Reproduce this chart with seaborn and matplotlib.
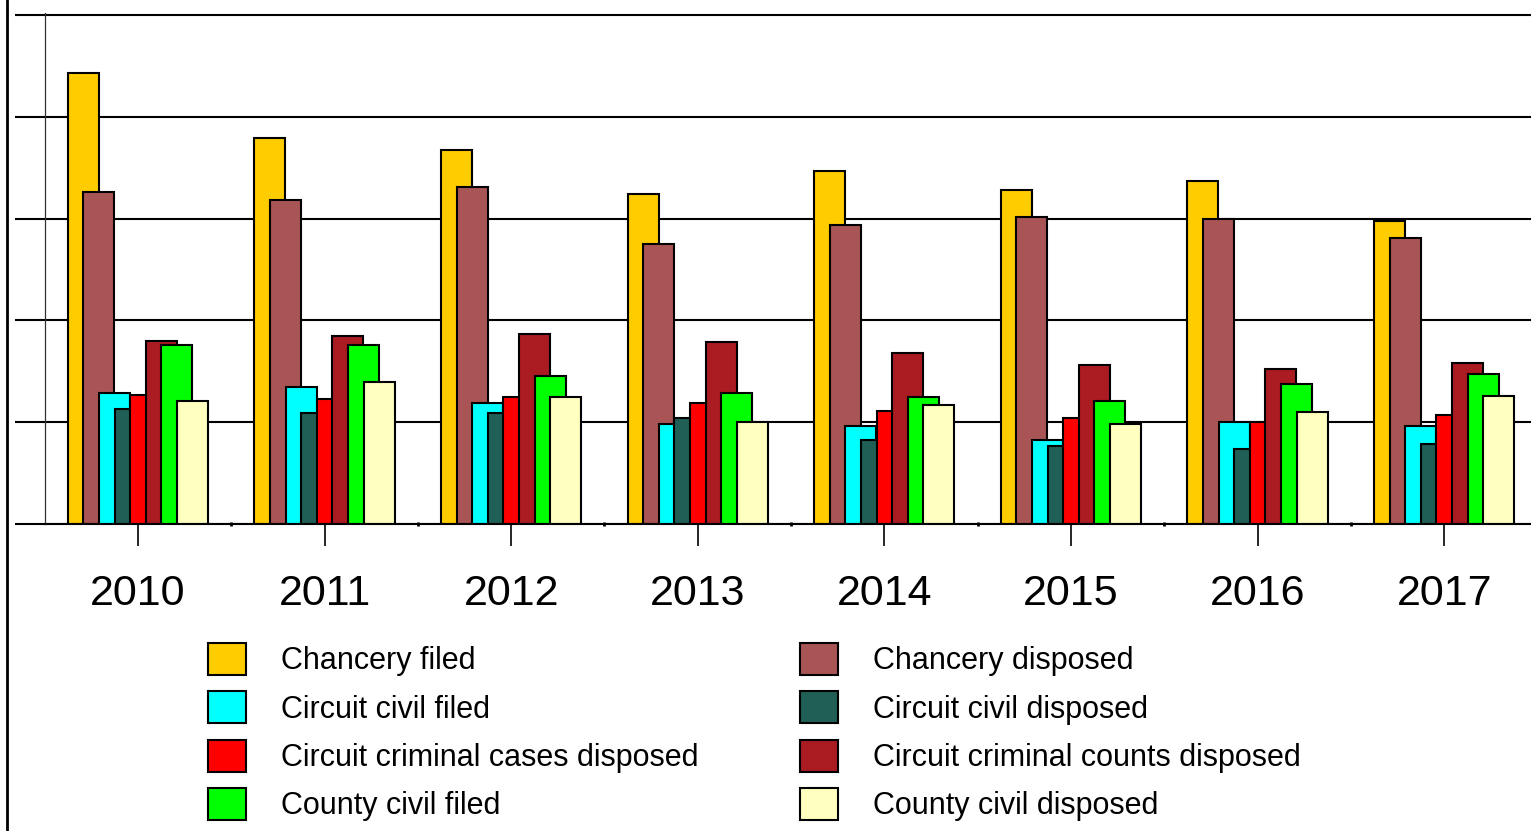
import numpy as np
import matplotlib
matplotlib.use('Agg')
import matplotlib.pyplot as plt
import seaborn as sns
from matplotlib.lines import Line2D

# Dati (scala arbitraria, griglia ogni 1000)
years = [2010, 2011, 2012, 2013, 2014, 2015, 2016, 2017]

series = ['Chancery filed', 'Chancery disposed',
          'Circuit civil filed', 'Circuit civil disposed',
          'Circuit criminal cases disposed', 'Circuit criminal counts disposed',
          'County civil filed', 'County civil disposed']

colors = ['#FFCC00', '#AA5555', '#00FFFF', '#1F5F55',
          '#FF0000', '#AA1C22', '#00FF00', '#FFFFC0']

chancery_filed = [4430, 3792, 3674, 3242, 3468, 3281, 3369, 2976]
chancery_disposed = [3261, 3183, 3310, 2750, 2937, 3016, 2996, 2809]
circuit_civil_filed = [1290, 1346, 1189, 982, 963, 825, 1002, 963]
circuit_civil_disposed = [1130, 1090, 1090, 1041, 825, 766, 737, 786]
criminal_cases_disposed = [1267, 1228, 1248, 1189, 1110, 1041, 1002, 1071]
criminal_counts_disposed = [1798, 1847, 1866, 1788, 1680, 1562, 1523, 1582]
county_civil_filed = [1758, 1758, 1454, 1287, 1248, 1208, 1375, 1473]
county_civil_disposed = [1208, 1395, 1248, 1002, 1169, 982, 1100, 1257]

values = [chancery_filed, chancery_disposed,
          circuit_civil_filed, circuit_civil_disposed,
          criminal_cases_disposed, criminal_counts_disposed,
          county_civil_filed, county_civil_disposed]

sns.set_theme(style='white')
plt.rcParams['font.family'] = ['Liberation Sans', 'DejaVu Sans']
plt.rcParams['text.color'] = 'black'
plt.rcParams['xtick.color'] = 'black'
plt.rcParams['ytick.color'] = 'black'

W, H = 1531, 831
fig = plt.figure(figsize=(W / 100, H / 100), dpi=100)
ax = fig.add_axes([45 / W, (H - 524) / H, (W - 45) / W, 511 / H])

# barre sovrapposte: ogni serie spostata di mezza larghezza
bar_w = 0.166
step = 0.0836
for i, (name, vals, col) in enumerate(zip(series, values, colors)):
    xs = np.array(years) + (i - 3.5) * step
    sns.barplot(x=xs, y=vals, native_scale=True, width=bar_w, color=col,
                saturation=1, edgecolor='black', linewidth=1.5,
                errorbar=None, label=name, ax=ax)

if ax.get_legend() is not None:
    ax.get_legend().remove()

ax.set_xlim(2010 - 0.498, 2010 - 0.498 + 1486 / 186.6)
ax.set_ylim(0, 5020)
ax.set_yticks(np.arange(0, 5001, 1000))
ax.yaxis.grid(True, color='black', linewidth=1.5)
ax.set_axisbelow(True)

ax.set_xticks(years)
ax.set_xticklabels([str(y) for y in years], fontsize=31, color='black')
ax.set_xticks(np.array(years[:-1]) + 0.5, minor=True)
ax.tick_params(axis='x', which='major', direction='out', length=16, width=1.2,
               color='black', pad=20, bottom=True)
ax.tick_params(axis='x', which='minor', direction='inout', length=3, width=2,
               color='black', bottom=True)
ax.tick_params(axis='y', direction='out', length=21.6, width=1.5,
               color='black', left=True, labelleft=False)
ax.set_xlabel('')
ax.set_ylabel('')

for s in ['top', 'right']:
    ax.spines[s].set_visible(False)
ax.spines['left'].set_linewidth(0.9)
ax.spines['left'].set_color('#333333')
ax.spines['bottom'].set_linewidth(1.5)
ax.spines['bottom'].set_color('black')

# legenda in due colonne sotto il grafico
handles, labels = ax.get_legend_handles_labels()
order = list(range(0, 8, 2)) + list(range(1, 8, 2))
fig.legend([handles[k] for k in order], [labels[k] for k in order],
           ncol=2, loc='upper left', bbox_to_anchor=(208 / W, 1 - 643 / H),
           frameon=False, fontsize=22, labelcolor='black',
           borderpad=0, borderaxespad=0,
           handlelength=1.24, handleheight=1.24, handletextpad=1.16,
           labelspacing=0.49, columnspacing=3.3)

# bordo sinistro del riquadro
fig.add_artist(Line2D([7 / W, 7 / W], [0, 1], color='black', linewidth=2,
                      transform=fig.transFigure))

fig.savefig('out.png', dpi=100)
